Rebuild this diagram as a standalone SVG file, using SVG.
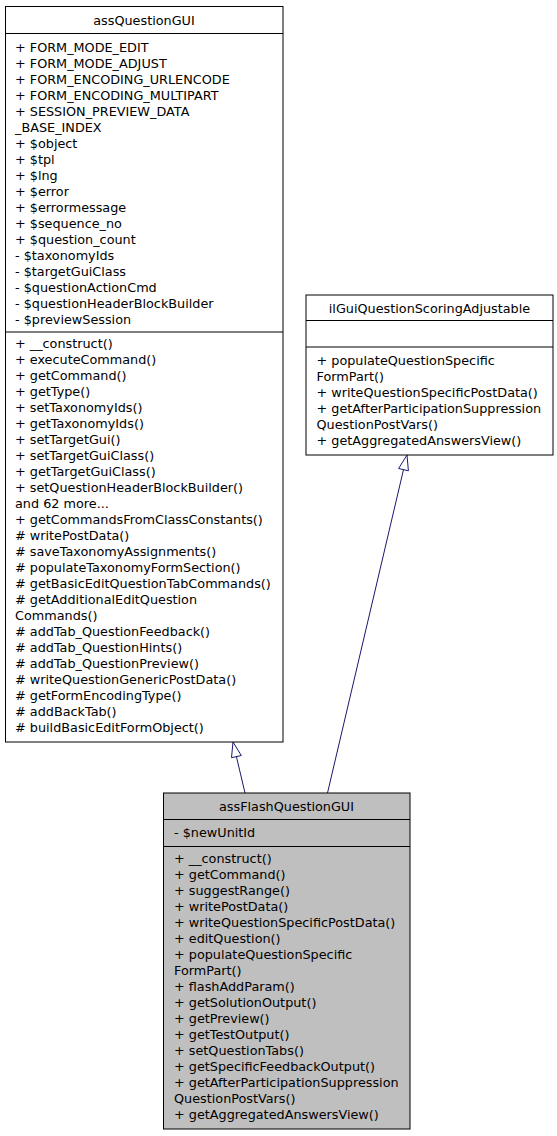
<svg xmlns="http://www.w3.org/2000/svg" width="557" height="1136" viewBox="0 0 557 1136">
<style>
text{font-family:"DejaVu Sans","Liberation Sans",sans-serif;font-size:12.8px;fill:#000}
.c{text-anchor:middle}
.box{fill:#fff;stroke:#000;stroke-width:1}
.cur{fill:#bfbfbf;stroke:#000;stroke-width:1}
.sep{stroke:#000;stroke-width:1;fill:none}
.edge{stroke:#191970;stroke-width:1;fill:none}
.head{stroke:#191970;stroke-width:1;fill:#fff}
</style>
<rect width="557" height="1136" fill="#fff"/>
<g id="connectors">
<path class="edge" d="M245,793 L236.4,756.6"/>
<polygon class="head" points="233,742 241.3,755.5 231.5,757.7"/>
<path class="edge" d="M327.5,793 L403.5,469.6"/>
<polygon class="head" points="407,455 408.4,470.8 398.6,468.5"/>
</g>
<g id="node-assQuestionGUI">
<rect class="box" x="5.5" y="6.5" width="277.5" height="735.5"/>
<path class="sep" d="M5.5,33.5H283M5.5,332H283"/>
<text class="c" x="144" y="25">assQuestionGUI</text>
<text x="15" y="52">+ FORM_MODE_EDIT</text>
<text x="15" y="68">+ FORM_MODE_ADJUST</text>
<text x="15" y="84">+ FORM_ENCODING_URLENCODE</text>
<text x="15" y="100">+ FORM_ENCODING_MULTIPART</text>
<text x="15" y="116">+ SESSION_PREVIEW_DATA</text>
<text x="15" y="132">_BASE_INDEX</text>
<text x="15" y="148">+ $object</text>
<text x="15" y="164">+ $tpl</text>
<text x="15" y="180">+ $lng</text>
<text x="15" y="196">+ $error</text>
<text x="15" y="212">+ $errormessage</text>
<text x="15" y="228">+ $sequence_no</text>
<text x="15" y="244">+ $question_count</text>
<text x="15" y="260">- $taxonomyIds</text>
<text x="15" y="276">- $targetGuiClass</text>
<text x="15" y="292">- $questionActionCmd</text>
<text x="15" y="308">- $questionHeaderBlockBuilder</text>
<text x="15" y="324">- $previewSession</text>
<text x="15" y="348">+ __construct()</text>
<text x="15" y="364">+ executeCommand()</text>
<text x="15" y="380">+ getCommand()</text>
<text x="15" y="396">+ getType()</text>
<text x="15" y="412">+ setTaxonomyIds()</text>
<text x="15" y="428">+ getTaxonomyIds()</text>
<text x="15" y="444">+ setTargetGui()</text>
<text x="15" y="460">+ setTargetGuiClass()</text>
<text x="15" y="476">+ getTargetGuiClass()</text>
<text x="15" y="492">+ setQuestionHeaderBlockBuilder()</text>
<text x="15" y="508">and 62 more...</text>
<text x="15" y="524">+ getCommandsFromClassConstants()</text>
<text x="15" y="540"># writePostData()</text>
<text x="15" y="556"># saveTaxonomyAssignments()</text>
<text x="15" y="572"># populateTaxonomyFormSection()</text>
<text x="15" y="588"># getBasicEditQuestionTabCommands()</text>
<text x="15" y="604"># getAdditionalEditQuestion</text>
<text x="15" y="620">Commands()</text>
<text x="15" y="636"># addTab_QuestionFeedback()</text>
<text x="15" y="652"># addTab_QuestionHints()</text>
<text x="15" y="668"># addTab_QuestionPreview()</text>
<text x="15" y="684"># writeQuestionGenericPostData()</text>
<text x="15" y="700"># getFormEncodingType()</text>
<text x="15" y="716"># addBackTab()</text>
<text x="15" y="732"># buildBasicEditFormObject()</text>
</g>
<g id="node-ilGuiQuestionScoringAdjustable">
<rect class="box" x="306" y="295" width="247" height="160"/>
<path class="sep" d="M306,320.5H553M306,347H553"/>
<text class="c" x="429.5" y="312.5">ilGuiQuestionScoringAdjustable</text>
<text x="316.5" y="364.5">+ populateQuestionSpecific</text>
<text x="316.5" y="380.5">FormPart()</text>
<text x="316.5" y="396.5">+ writeQuestionSpecificPostData()</text>
<text x="316.5" y="412.5">+ getAfterParticipationSuppression</text>
<text x="316.5" y="428.5">QuestionPostVars()</text>
<text x="316.5" y="444.5">+ getAggregatedAnswersView()</text>
</g>
<g id="node-assFlashQuestionGUI">
<rect class="cur" x="163.5" y="793" width="246.5" height="336"/>
<path class="sep" d="M163.5,819.5H410M163.5,846.5H410"/>
<text class="c" x="286.5" y="811">assFlashQuestionGUI</text>
<text x="174" y="837">- $newUnitId</text>
<text x="174" y="863">+ __construct()</text>
<text x="174" y="879">+ getCommand()</text>
<text x="174" y="895">+ suggestRange()</text>
<text x="174" y="911">+ writePostData()</text>
<text x="174" y="927">+ writeQuestionSpecificPostData()</text>
<text x="174" y="943">+ editQuestion()</text>
<text x="174" y="959">+ populateQuestionSpecific</text>
<text x="174" y="975">FormPart()</text>
<text x="174" y="991">+ flashAddParam()</text>
<text x="174" y="1007">+ getSolutionOutput()</text>
<text x="174" y="1023">+ getPreview()</text>
<text x="174" y="1039">+ getTestOutput()</text>
<text x="174" y="1055">+ setQuestionTabs()</text>
<text x="174" y="1071">+ getSpecificFeedbackOutput()</text>
<text x="174" y="1087">+ getAfterParticipationSuppression</text>
<text x="174" y="1103">QuestionPostVars()</text>
<text x="174" y="1119">+ getAggregatedAnswersView()</text>
</g>
</svg>
